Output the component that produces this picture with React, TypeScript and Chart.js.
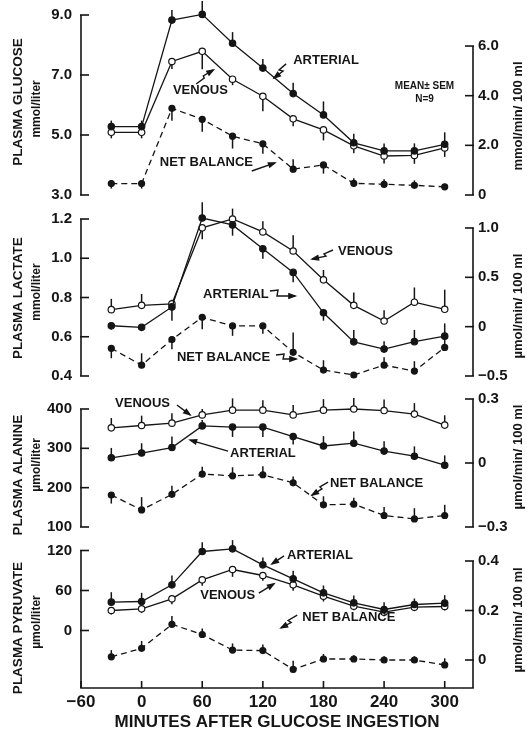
import React, { useEffect, useRef } from 'react';
import { Chart, registerables } from 'chart.js';

Chart.register(...registerables);

const INK = '#151515';
const FONT = '"Liberation Sans", Arial, Helvetica, sans-serif';

// ---------- data ----------
const minutes = [-30, 0, 30, 60, 90, 120, 150, 180, 210, 240, 270, 300];
const xTicks = [-60, 0, 60, 120, 180, 240, 300];
const xTickLabels = ['−60', '0', '60', '120', '180', '240', '300'];

// Plasma glucose (mmol/liter), net balance (mmol/min/100 ml)
const glucoseArterial = [5.28, 5.28, 8.83, 9.02, 8.06, 7.23, 6.38, 5.67, 4.74, 4.47, 4.47, 4.69];
const glucoseArterialSem = [0.2, 0.2, 0.34, 0.45, 0.37, 0.3, 0.36, 0.45, 0.3, 0.25, 0.25, 0.4];
const glucoseVenous = [5.09, 5.09, 7.45, 7.79, 6.86, 6.29, 5.54, 5.17, 4.64, 4.3, 4.32, 4.57];
const glucoseVenousSem = [-0.2, -0.2, -0.25, -0.6, -0.2, -0.5, -0.25, -0.35, -0.25, -0.25, -0.28, -0.3];
const glucoseNet = [0.46, 0.46, 3.49, 3.05, 2.37, 2.06, 1.04, 1.21, 0.47, 0.43, 0.39, 0.33];
const glucoseNetSem = [-0.2, -0.2, -0.5, -0.5, -0.5, -0.4, 0.4, -0.35, 0.2, 0.2, 0.2, 0.1];
const glucoseLeftTicks = [3, 5, 7, 9];
const glucoseLeftLabels = ['3.0', '5.0', '7.0', '9.0'];
const glucoseRightTicks = [0, 2, 4, 6];
const glucoseRightLabels = ['0', '2.0', '4.0', '6.0'];

// Plasma lactate (mmol/liter), net balance (µmol/min/100 ml)
const lactateArterial = [0.656, 0.648, 0.752, 1.205, 1.17, 1.048, 0.928, 0.722, 0.574, 0.537, 0.575, 0.603];
const lactateArterialSem = [-0.02, 0, -0.07, 0.08, -0.055, -0.05, -0.05, -0.04, 0.06, 0.04, 0.06, 0.065];
const lactateVenous = [0.738, 0.76, 0.768, 1.155, 1.2, 1.134, 1.037, 0.89, 0.76, 0.68, 0.776, 0.74];
const lactateVenousSem = [0.055, 0.058, 0.02, -0.058, 0.053, 0.055, 0.08, 0.05, 0.065, 0.055, 0.075, 0.1];
const lactateNet = [-0.22, -0.39, -0.13, 0.095, 0.007, 0.007, -0.26, -0.44, -0.49, -0.39, -0.45, -0.21];
const lactateNetSem = [-0.1, 0.12, -0.1, -0.12, -0.1, -0.08, 0.2, 0.1, 0.03, 0.08, 0.1, 0.11];
const lactateLeftTicks = [0.4, 0.6, 0.8, 1.0, 1.2];
const lactateLeftLabels = ['0.4', '0.6', '0.8', '1.0', '1.2'];
const lactateRightTicks = [-0.5, 0, 0.5, 1.0];
const lactateRightLabels = ['−0.5', '0', '0.5', '1.0'];

// Plasma alanine (µmol/liter), net balance (µmol/min/100 ml)
const alanineArterial = [276, 288, 302, 357, 354, 354, 330, 306, 313, 293, 280, 257];
const alanineArterialSem = [25, 25, 28, 15, -25, -25, -20, 25, 30, 25, 25, 25];
const alanineVenous = [352, 358, 364, 385, 397, 397, 385, 397, 400, 396, 387, 359];
const alanineVenousSem = [25, 25, 25, 15, 30, 25, 25, 28, 28, 28, 28, 25];
const alanineNet = [-0.15, -0.22, -0.147, -0.052, -0.06, -0.055, -0.093, -0.196, -0.193, -0.246, -0.262, -0.246];
const alanineNetSem = [-0.04, 0.06, 0.04, 0.035, 0.04, 0.04, 0.03, 0.04, 0.03, 0.04, 0.05, 0.05];
const alanineLeftTicks = [100, 200, 300, 400];
const alanineLeftLabels = ['100', '200', '300', '400'];
const alanineRightTicks = [-0.3, 0, 0.3];
const alanineRightLabels = ['−0.3', '0', '0.3'];

// Plasma pyruvate (µmol/liter), net balance (µmol/min/100 ml)
const pyruvateArterial = [42.5, 43.5, 68.5, 118.5, 122.5, 98.5, 77.5, 56.5, 41.5, 31.5, 39, 41];
const pyruvateArterialSem = [15, 13, 14, 14, 13, 11, 12, 11, 11, 11, 9, 12];
const pyruvateVenous = [30, 32.5, 47.5, 76, 91.5, 82.5, 68.5, 51.5, 36.5, 27.5, 35, 36];
const pyruvateVenousSem = [-6, -6, -8, -9, -11, -8, -9, -8, -6, -6, -6, -6];
const pyruvateNet = [0.013, 0.047, 0.144, 0.103, 0.04, 0.038, -0.038, 0.004, 0.004, 0, 0, -0.02];
const pyruvateNetSem = [0.027, 0.03, 0.034, 0.024, 0.027, 0.025, 0.035, 0.02, 0.015, 0.015, 0.015, 0.027];
const pyruvateLeftTicks = [0, 60, 120];
const pyruvateLeftLabels = ['0', '60', '120'];
const pyruvateRightTicks = [0, 0.2, 0.4];
const pyruvateRightLabels = ['0', '0.2', '0.4'];

// ---------- panel layout / decoration ----------
type Txt = { text: string; x: number; y: number; align?: CanvasTextAlign; size?: number };
type Arrow = number[][];

type Panel = {
  top: number; height: number; padTop: number; padBottom: number;
  bottomAxis: boolean;
  leftMin: number; leftMax: number; rightMin: number; rightMax: number;
  leftTicks: number[]; leftLabels: string[]; rightTicks: number[]; rightLabels: string[];
  arterial: number[]; arterialSem: number[]; venous: number[]; venousSem: number[]; net: number[]; netSem: number[];
  title: string; titleY: number; unit: string; unitY: number; rightTitle: string; rightTitleY: number;
  texts: Txt[]; arrows: Arrow[];
};

const panels: Panel[] = [
  {
    top: 0, height: 205, padTop: 15, padBottom: 10, bottomAxis: false,
    leftMin: 3, leftMax: 9, rightMin: 0, rightMax: 7.25,
    leftTicks: glucoseLeftTicks, leftLabels: glucoseLeftLabels, rightTicks: glucoseRightTicks, rightLabels: glucoseRightLabels,
    arterial: glucoseArterial, arterialSem: glucoseArterialSem, venous: glucoseVenous, venousSem: glucoseVenousSem, net: glucoseNet, netSem: glucoseNetSem,
    title: 'PLASMA GLUCOSE', titleY: 6.1, unit: 'mmol/liter', unitY: 5.87, rightTitle: 'mmol/min/ 100 ml', rightTitleY: 3.18,
    texts: [
      { text: 'ARTERIAL', x: 150, y: 7.5 },
      { text: 'VENOUS', x: 31, y: 6.5 },
      { text: 'MEAN± SEM', x: 280, y: 6.62, align: 'center', size: 10 },
      { text: 'N=9', x: 280, y: 6.2, align: 'center', size: 10 },
      { text: 'NET BALANCE', x: 18, y: 4.07 },
    ],
    arrows: [
      [[143, 7.37], [136, 7.17], [140, 7.13], [131, 6.9]],
      [[54, 6.7], [62, 6.9], [61, 6.97], [71, 7.17]],
      [[109, 3.8], [132, 4.07]],
    ],
  },
  {
    top: 195, height: 197, padTop: 24, padBottom: 16, bottomAxis: false,
    leftMin: 0.4, leftMax: 1.2, rightMin: -0.5, rightMax: 1.091,
    leftTicks: lactateLeftTicks, leftLabels: lactateLeftLabels, rightTicks: lactateRightTicks, rightLabels: lactateRightLabels,
    arterial: lactateArterial, arterialSem: lactateArterialSem, venous: lactateVenous, venousSem: lactateVenousSem, net: lactateNet, netSem: lactateNetSem,
    title: 'PLASMA LACTATE', titleY: 0.797, unit: 'mmol/liter', unitY: 0.828, rightTitle: 'µmol/min/ 100 ml', rightTitleY: 0.209,
    texts: [
      { text: 'VENOUS', x: 194.4, y: 1.037 },
      { text: 'ARTERIAL', x: 60.8, y: 0.818 },
      { text: 'NET BALANCE', x: 35, y: 0.497 },
    ],
    arrows: [
      [[189.4, 1.042], [180.5, 1.022], [182.5, 1.011], [168.7, 0.996]],
      [[127, 0.833], [135, 0.838], [134, 0.808], [152, 0.808]],
      [[133, 0.507], [141, 0.512], [140, 0.487], [153, 0.487]],
    ],
  },
  {
    top: 392, height: 148, padTop: 7, padBottom: 13, bottomAxis: false,
    leftMin: 100, leftMax: 425.4, rightMin: -0.3, rightMax: 0.3,
    leftTicks: alanineLeftTicks, leftLabels: alanineLeftLabels, rightTicks: alanineRightTicks, rightLabels: alanineRightLabels,
    arterial: alanineArterial, arterialSem: alanineArterialSem, venous: alanineVenous, venousSem: alanineVenousSem, net: alanineNet, netSem: alanineNetSem,
    title: 'PLASMA ALANINE', titleY: 232, unit: 'µmol/liter', unitY: 258, rightTitle: 'µmol/min/ 100 ml', rightTitleY: 0.028,
    texts: [
      { text: 'VENOUS', x: -26.3, y: 415 },
      { text: 'ARTERIAL', x: 87.5, y: 286 },
      { text: 'NET BALANCE', x: 186.5, y: 212 },
    ],
    arrows: [
      [[35, 410], [48, 385]],
      [[85.5, 293], [48, 321]],
      [[184.5, 214], [176.5, 202], [178.5, 197], [168.6, 181]],
    ],
  },
  {
    top: 530, height: 204, padTop: 20.5, padBottom: 0, bottomAxis: true,
    leftMin: -86.25, leftMax: 120, rightMin: -0.1131, rightMax: 0.4424,
    leftTicks: pyruvateLeftTicks, leftLabels: pyruvateLeftLabels, rightTicks: pyruvateRightTicks, rightLabels: pyruvateRightLabels,
    arterial: pyruvateArterial, arterialSem: pyruvateArterialSem, venous: pyruvateVenous, venousSem: pyruvateVenousSem, net: pyruvateNet, netSem: pyruvateNetSem,
    title: 'PLASMA PYRUVATE', titleY: 3.75, unit: 'µmol/liter', unitY: 12.75, rightTitle: 'µmol/min/ 100 ml', rightTitleY: 0.162,
    texts: [
      { text: 'ARTERIAL', x: 144, y: 113 },
      { text: 'VENOUS', x: 58, y: 53 },
      { text: 'NET BALANCE', x: 159, y: 20 },
    ],
    arrows: [
      [[141, 112], [129, 100]],
      [[116, 56], [131, 70]],
      [[154, 23], [145, 15], [148, 12], [138, 4]],
    ],
  },
];

function line(ctx: CanvasRenderingContext2D, x1: number, y1: number, x2: number, y2: number) {
  ctx.beginPath();
  ctx.moveTo(x1, y1);
  ctx.lineTo(x2, y2);
  ctx.stroke();
}

function makeDecor(p: Panel) {
  return {
    id: 'decor',
    beforeDatasetsDraw(chart: any) {
      const ctx: CanvasRenderingContext2D = chart.ctx;
      const xs = chart.scales.x;
      ctx.save();
      ctx.strokeStyle = INK;
      ctx.lineWidth = 1.5;
      chart.data.datasets.forEach((ds: any) => {
        const sc = chart.scales[ds.yAxisID];
        ds.data.forEach((pt: any, i: number) => {
          const e = ds.errs[i];
          if (!e) return;
          const px = xs.getPixelForValue(pt.x);
          line(ctx, px, sc.getPixelForValue(pt.y), px, sc.getPixelForValue(pt.y + e));
        });
      });
      ctx.restore();
    },
    afterDraw(chart: any) {
      const ctx: CanvasRenderingContext2D = chart.ctx;
      const { left, right, bottom } = chart.chartArea;
      const xs = chart.scales.x, yL = chart.scales.yL, yR = chart.scales.yR;
      ctx.save();
      ctx.strokeStyle = INK;
      ctx.fillStyle = INK;
      ctx.lineWidth = 1.6;
      // left axis bracket
      const lTop = yL.getPixelForValue(Math.max(...p.leftTicks));
      const lBot = p.bottomAxis ? bottom : yL.getPixelForValue(Math.min(...p.leftTicks));
      line(ctx, left, lTop, left, lBot);
      p.leftTicks.forEach((v) => {
        const y = yL.getPixelForValue(v);
        line(ctx, left - 1, y, left + 8, y);
      });
      // right axis bracket
      const rTop = yR.getPixelForValue(Math.max(...p.rightTicks));
      const rBot = p.bottomAxis ? bottom : yR.getPixelForValue(Math.min(...p.rightTicks));
      line(ctx, right, rTop, right, rBot);
      p.rightTicks.forEach((v) => {
        const y = yR.getPixelForValue(v);
        line(ctx, right - 8, y, right + 1, y);
      });
      if (p.bottomAxis) {
        line(ctx, left - 0.8, bottom, right + 0.8, bottom);
        xTicks.forEach((v) => {
          const x = xs.getPixelForValue(v);
          line(ctx, x, bottom, x, bottom - 7);
        });
      }
      // axis titles (rotated)
      const rot = (text: string, x: number, y: number, size: number) => {
        ctx.save();
        ctx.translate(x, y);
        ctx.rotate(-Math.PI / 2);
        ctx.font = `bold ${size}px ${FONT}`;
        ctx.textAlign = 'center';
        ctx.textBaseline = 'middle';
        ctx.fillText(text, 0, 0);
        ctx.restore();
      };
      rot(p.title, 18, yL.getPixelForValue(p.titleY), 13.5);
      rot(p.unit, 37, yL.getPixelForValue(p.unitY), 12);
      rot(p.rightTitle, 518, yR.getPixelForValue(p.rightTitleY), 13);
      // annotations
      ctx.textBaseline = 'middle';
      p.texts.forEach((t) => {
        ctx.font = `bold ${t.size || 13}px ${FONT}`;
        ctx.textAlign = t.align || 'left';
        ctx.fillText(t.text, xs.getPixelForValue(t.x), yL.getPixelForValue(t.y));
      });
      ctx.lineWidth = 1.4;
      p.arrows.forEach((a) => {
        const pts = a.map(([m, v]) => [xs.getPixelForValue(m), yL.getPixelForValue(v)]);
        ctx.beginPath();
        pts.forEach(([x, y], i) => (i ? ctx.lineTo(x, y) : ctx.moveTo(x, y)));
        ctx.stroke();
        const [x1, y1] = pts[pts.length - 2];
        const [x2, y2] = pts[pts.length - 1];
        const ang = Math.atan2(y2 - y1, x2 - x1);
        const L = 7, W = 3.2;
        ctx.beginPath();
        ctx.moveTo(x2 + Math.cos(ang) * 2, y2 + Math.sin(ang) * 2);
        ctx.lineTo(x2 - Math.cos(ang) * L - Math.sin(ang) * W, y2 - Math.sin(ang) * L + Math.cos(ang) * W);
        ctx.lineTo(x2 - Math.cos(ang) * L + Math.sin(ang) * W, y2 - Math.sin(ang) * L - Math.cos(ang) * W);
        ctx.closePath();
        ctx.fill();
      });
      ctx.restore();
    },
  };
}

function series(values: number[]) {
  return minutes.map((m, i) => ({ x: m, y: values[i] }));
}

// drop Chart.js's automatic label padding so the chart area is exactly the layout padding
const noPad = (s: any) => {
  s.paddingTop = 0;
  s.paddingBottom = 0;
  s.paddingLeft = 0;
  s.paddingRight = 0;
};

function buildConfig(p: Panel): any {
  const tickFont = { family: FONT, size: 15, weight: 'bold' as const };
  const base = { borderColor: INK, borderWidth: 1.3, pointBorderColor: INK, pointBorderWidth: 1.2, clip: false as const, tension: 0 };
  return {
    type: 'line',
    data: {
      datasets: [
        { ...base, label: 'ARTERIAL', data: series(p.arterial), errs: p.arterialSem, yAxisID: 'yL', pointRadius: 3.2, pointBackgroundColor: INK },
        { ...base, label: 'VENOUS', data: series(p.venous), errs: p.venousSem, yAxisID: 'yL', pointRadius: 3.2, pointBackgroundColor: '#ffffff' },
        { ...base, label: 'NET BALANCE', data: series(p.net), errs: p.netSem, yAxisID: 'yR', borderDash: [6, 4], pointRadius: 3, pointBackgroundColor: INK },
      ],
    },
    options: {
      responsive: false,
      animation: false,
      devicePixelRatio: 1,
      events: [],
      layout: { padding: { top: p.padTop, bottom: p.padBottom, left: 0, right: 0 } },
      plugins: { legend: { display: false }, tooltip: { enabled: false } },
      scales: {
        x: {
          type: 'linear', position: 'bottom', min: -60, max: 328, display: p.bottomAxis,
          afterFit: (s: any) => { s.height = p.bottomAxis ? 46 : 0; noPad(s); },
          afterBuildTicks: (s: any) => { s.ticks = xTicks.map((v) => ({ value: v })); },
          ticks: {
            callback: (_v: any, i: number) => xTickLabels[i],
            font: { family: FONT, size: 17, weight: 'bold' }, color: INK, padding: 4,
            autoSkip: false, maxRotation: 0, minRotation: 0,
          },
          grid: { display: false, drawTicks: false },
          border: { display: false },
          title: {
            display: true, text: 'MINUTES AFTER GLUCOSE INGESTION', color: INK,
            font: { family: FONT, size: 17, weight: 'bold' }, padding: { top: 0, bottom: 1 },
          },
        },
        yL: {
          type: 'linear', position: 'left', min: p.leftMin, max: p.leftMax,
          afterFit: (s: any) => { s.width = 81; noPad(s); },
          afterBuildTicks: (s: any) => { s.ticks = p.leftTicks.map((v) => ({ value: v })); },
          ticks: { callback: (_v: any, i: number) => p.leftLabels[i], font: tickFont, color: INK, padding: 9, autoSkip: false },
          grid: { display: false, drawTicks: false },
          border: { display: false },
        },
        yR: {
          type: 'linear', position: 'right', min: p.rightMin, max: p.rightMax,
          afterFit: (s: any) => { s.width = 54; noPad(s); },
          afterBuildTicks: (s: any) => { s.ticks = p.rightTicks.map((v) => ({ value: v })); },
          ticks: { callback: (_v: any, i: number) => p.rightLabels[i], font: tickFont, color: INK, padding: 5, autoSkip: false },
          grid: { display: false, drawTicks: false },
          border: { display: false },
        },
      },
    },
    plugins: [makeDecor(p)],
  };
}

function PanelChart({ p }: { p: Panel }) {
  const ref = useRef<HTMLCanvasElement>(null);
  useEffect(() => {
    const chart = new Chart(ref.current as HTMLCanvasElement, buildConfig(p));
    return () => chart.destroy();
  }, [p]);
  return (
    <canvas
      ref={ref}
      width={527}
      height={p.height}
      style={{ position: 'absolute', left: 0, top: p.top, width: 527, height: p.height }}
    />
  );
}

export default function App() {
  return (
    <div style={{ position: 'absolute', left: 0, top: 0, width: 527, height: 734, background: '#ffffff', overflow: 'hidden' }}>
      {panels.map((p, i) => (
        <PanelChart key={i} p={p} />
      ))}
    </div>
  );
}
